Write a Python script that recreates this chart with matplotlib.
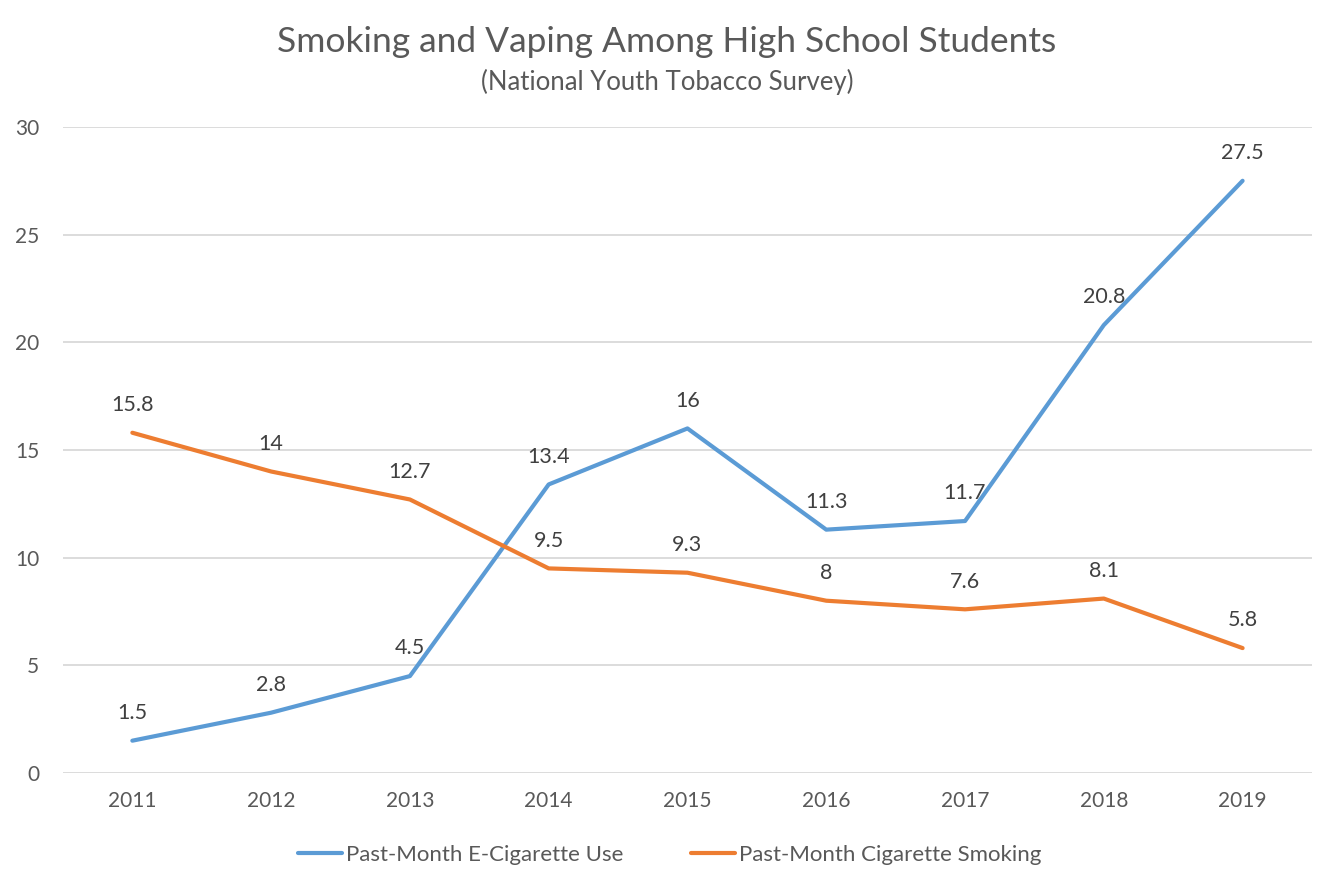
import matplotlib.pyplot as plt
import numpy as np

plt.rcParams['font.family'] = ['Lato', 'DejaVu Sans']

years = ['2011', '2012', '2013', '2014', '2015', '2016', '2017', '2018', '2019']
ecig = [1.5, 2.8, 4.5, 13.4, 16, 11.3, 11.7, 20.8, 27.5]
cig = [15.8, 14, 12.7, 9.5, 9.3, 8, 7.6, 8.1, 5.8]
yticks = [0, 5, 10, 15, 20, 25, 30]

blue = '#5B9BD5'
orange = '#ED7D31'
grey = '#595959'

fig = plt.figure(figsize=(13.34, 8.89), dpi=100)
ax = fig.add_axes([0.0472, 0.1305, 0.9363, 0.7267])

x = np.arange(len(years))
ax.plot(x, ecig, '-', color=blue, lw=3, label='Past-Month E-Cigarette Use', solid_capstyle='round')
ax.plot(x, cig, '-', color=orange, lw=3, label='Past-Month Cigarette Smoking', solid_capstyle='round')

for xi, v in zip(x, ecig):
    ax.annotate(f'{v:g}', (xi, v), xytext=(0, 20), textcoords='offset points',
                ha='center', va='center', fontsize=15.5, color='#404040')
for xi, v in zip(x, cig):
    ax.annotate(f'{v:g}', (xi, v), xytext=(0, 20), textcoords='offset points',
                ha='center', va='center', fontsize=15.5, color='#404040')

ax.set_xlim(-0.5, len(years) - 0.5)
ax.set_ylim(0, 30)
ax.set_xticks(x)
ax.set_xticklabels(years)
ax.set_yticks(yticks)
ax.tick_params(axis='both', length=0, labelsize=15, labelcolor=grey)
ax.tick_params(axis='x', pad=13)
ax.tick_params(axis='y', pad=17)
ax.grid(axis='y', color='#D9D9D9', lw=1.3)
ax.set_axisbelow(True)
for s in ax.spines.values():
    s.set_visible(False)

fig.text(0.5, 0.953, 'Smoking and Vaping Among High School Students', ha='center', va='center',
         fontsize=25.5, color=grey)
fig.text(0.5, 0.908, '(National Youth Tobacco Survey)', ha='center', va='center',
         fontsize=18.5, color=grey)

fig.legend(loc='center', bbox_to_anchor=(0.502, 0.038), ncol=2, frameon=False, fontsize=16,
           labelcolor=grey, handlelength=2.0, handletextpad=0.2, columnspacing=3.0)

fig.savefig('out.png', dpi=100)
